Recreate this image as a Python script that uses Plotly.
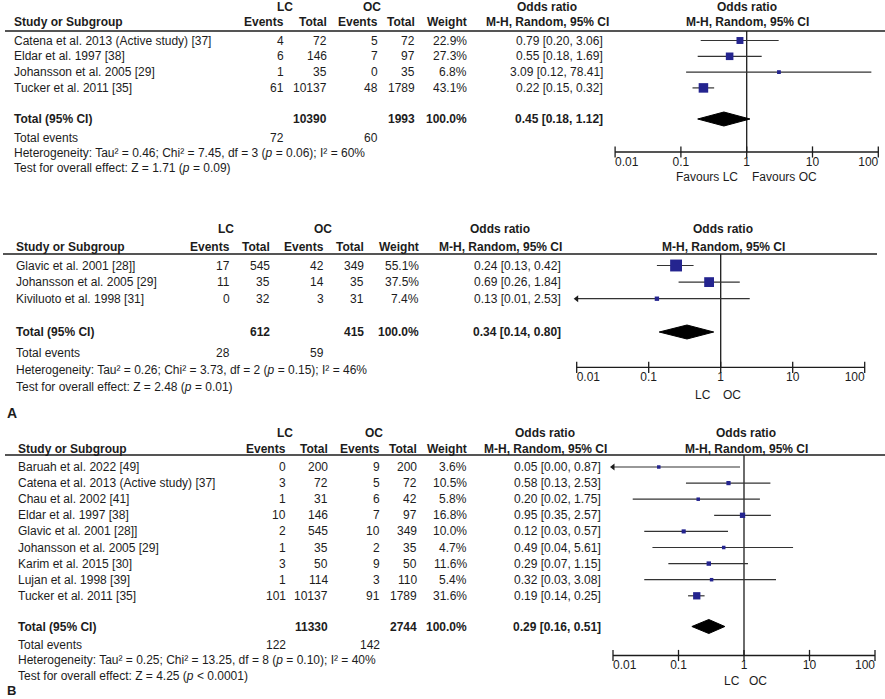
import plotly.graph_objects as go

W, H = 885, 699
FONT = "Liberation Sans, Arial, sans-serif"
INK = "#1c1c1c"
LINE = "#333333"
SQUARE = "#24248f"

TICKS = [0.01, 0.1, 1, 10, 100]
TICK_TEXT = ["0.01", "0.1", "1", "10", "100"]

# ---- A (top): LC vs OC
a1_study = ["Catena et al. 2013 (Active study) [37]", "Eldar et al. 1997 [38]",
            "Johansson et al. 2005 [29]", "Tucker et al. 2011 [35]"]
a1_lc_events = [4, 6, 1, 61]
a1_lc_total = [72, 146, 35, 10137]
a1_oc_events = [5, 7, 0, 48]
a1_oc_total = [72, 97, 35, 1789]
a1_weight = [22.9, 27.3, 6.8, 43.1]
a1_or = [0.79, 0.55, 3.09, 0.22]
a1_lo = [0.20, 0.18, 0.12, 0.15]
a1_hi = [3.06, 1.69, 78.41, 0.32]
a1_total_n = [10390, 1993]
a1_total_events = [72, 60]
a1_total_or = [0.45, 0.18, 1.12]
a1_het = "Heterogeneity: Tau² = 0.46; Chi² = 7.45, df = 3 (<i>p</i> = 0.06); I² = 60%"
a1_test = "Test for overall effect: Z = 1.71 (<i>p</i> = 0.09)"
a1_foot = ["Favours LC", "Favours OC"]

# ---- A (middle)
a2_study = ["Glavic et al. 2001 [28]]", "Johansson et al. 2005 [29]", "Kiviluoto et al. 1998 [31]"]
a2_lc_events = [17, 11, 0]
a2_lc_total = [545, 35, 32]
a2_oc_events = [42, 14, 3]
a2_oc_total = [349, 35, 31]
a2_weight = [55.1, 37.5, 7.4]
a2_or = [0.24, 0.69, 0.13]
a2_lo = [0.13, 0.26, 0.01]
a2_hi = [0.42, 1.84, 2.53]
a2_total_n = [612, 415]
a2_total_events = [28, 59]
a2_total_or = [0.34, 0.14, 0.80]
a2_het = "Heterogeneity: Tau² = 0.26; Chi² = 3.73, df = 2 (<i>p</i> = 0.15); I² = 46%"
a2_test = "Test for overall effect: Z = 2.48 (<i>p</i> = 0.01)"
a2_foot = ["LC", "OC"]

# ---- B
b_study = ["Baruah et al. 2022 [49]", "Catena et al. 2013 (Active study) [37]", "Chau et al. 2002 [41]",
           "Eldar et al. 1997 [38]", "Glavic et al. 2001 [28]]", "Johansson et al. 2005 [29]",
           "Karim et al. 2015 [30]", "Lujan et al. 1998 [39]", "Tucker et al. 2011 [35]"]
b_lc_events = [0, 3, 1, 10, 2, 1, 3, 1, 101]
b_lc_total = [200, 72, 31, 146, 545, 35, 50, 114, 10137]
b_oc_events = [9, 5, 6, 7, 10, 2, 9, 3, 91]
b_oc_total = [200, 72, 42, 97, 349, 35, 50, 110, 1789]
b_weight = [3.6, 10.5, 5.8, 16.8, 10.0, 4.7, 11.6, 5.4, 31.6]
b_or = [0.05, 0.58, 0.20, 0.95, 0.12, 0.49, 0.29, 0.32, 0.19]
b_lo = [0.00, 0.13, 0.02, 0.35, 0.03, 0.04, 0.07, 0.03, 0.14]
b_hi = [0.87, 2.53, 1.75, 2.57, 0.57, 5.61, 1.15, 3.08, 0.25]
b_total_n = [11330, 2744]
b_total_events = [122, 142]
b_total_or = [0.29, 0.16, 0.51]
b_het = "Heterogeneity: Tau² = 0.25; Chi² = 13.25, df = 8 (<i>p</i> = 0.10); I² = 40%"
b_test = "Test for overall effect: Z = 4.25 (<i>p</i> &lt; 0.0001)"
b_foot = ["LC", "OC"]


def px(x):
    return x / W


def py(y):
    return 1 - y / H


fig = go.Figure()
annotations = []
shapes = []


def label(x, y, s, anchor="left", bold=False, size=12, yref="paper"):
    annotations.append(dict(
        x=px(x), y=py(y) if yref == "paper" else y,
        xref="paper", yref=yref,
        text=f"<b>{s}</b>" if bold else s,
        showarrow=False, xanchor=anchor, yanchor="middle",
        font=dict(family=FONT, size=size, color=INK)))


def ci_text(v):
    return f"{v[0]:.2f} [{v[1]:.2f}, {v[2]:.2f}]"


def panel(n, d, c):
    xa = "x" if n == 1 else f"x{n}"
    ya = "y" if n == 1 else f"y{n}"
    key = "" if n == 1 else str(n)

    def row(p):
        return (p - c["row0"]) / c["row_h"]

    one, dec = c["one"], c["dec"]
    d0, d1 = c["dom"]
    fig.layout["xaxis" + key] = dict(
        type="log", domain=[px(d0), px(d1)],
        range=[(d0 - one) / dec, (d1 - one) / dec],
        anchor=ya, visible=False)
    fig.layout["yaxis" + key] = dict(
        domain=[0, 1], range=[row(H), row(0)], visible=False, anchor=xa)

    # table headers
    cols = c["cols"]
    label(c["lc_head"], c["h1"], "LC", "center", True)
    label(c["oc_head"], c["h1"], "OC", "center", True)
    label(c["or_head"], c["h1"], "Odds ratio", "center", True)
    label(c["plot_head"], c["h1"], "Odds ratio", "center", True)
    label(c["left"], c["h2"], "Study or Subgroup", "left", True)
    for x, s in zip(cols, ["Events", "Total", "Events", "Total", "Weight"]):
        label(x, c["h2"], s, "right", True)
    label(c["or_head"], c["h2"], "M-H, Random, 95% CI", "center", True)
    label(c["plot_head"], c["h2"], "M-H, Random, 95% CI", "center", True)
    shapes.append(dict(type="line", xref="paper", yref="paper",
                       x0=px(c["rule_x"][0]), x1=px(c["rule_x"][1]),
                       y0=py(c["rule"]), y1=py(c["rule"]),
                       line=dict(color=INK, width=1.3)))

    # study rows
    for i, s in enumerate(d["study"]):
        label(c["left"], i, s, "left", yref=ya)
        vals = [d["lc_ev"][i], d["lc_tot"][i], d["oc_ev"][i], d["oc_tot"][i], f"{d['w'][i]:.1f}%"]
        for x, v in zip(cols, vals):
            label(x, i, str(v), "right", yref=ya)
        label(c["ci_right"], i, ci_text([d["or"][i], d["lo"][i], d["hi"][i]]), "right", yref=ya)

    # totals and footnotes
    label(c["left"], c["tot"], "Total (95% CI)", "left", True)
    label(cols[1], c["tot"], str(d["tot_n"][0]), "right", True)
    label(cols[3], c["tot"], str(d["tot_n"][1]), "right", True)
    label(cols[4], c["tot"], "100.0%", "right", True)
    label(c["ci_right"], c["tot"], ci_text(d["tot_or"]), "right", True)
    label(c["left"], c["ev"], "Total events")
    label(cols[0], c["ev"], str(d["tot_ev"][0]), "right")
    label(cols[2], c["ev"], str(d["tot_ev"][1]), "right")
    label(c["left"], c["het"], d["het"])
    label(c["left"], c["test"], d["test"])
    for x, s in zip(c["foot_x"], d["foot"]):
        label(x, c["foot"], s, "center")

    # forest marks
    base = row(c["base"])
    fig.add_trace(go.Scatter(x=[1, 1], y=[row(c["rule"]), base], mode="lines",
                             line=dict(color=INK, width=1.3), xaxis=xa, yaxis=ya))
    fig.add_trace(go.Scatter(x=[TICKS[0], TICKS[-1]], y=[base, base], mode="lines",
                             line=dict(color=INK, width=1.3), xaxis=xa, yaxis=ya))
    fig.add_trace(go.Scatter(x=TICKS, y=[base] * len(TICKS), mode="markers",
                             marker=dict(symbol="line-ns", size=8, line=dict(color=INK, width=1.3)),
                             xaxis=xa, yaxis=ya))
    # scale labels: first one starts at its tick, last one ends at its tick
    pos = ["middle right"] + ["middle center"] * (len(TICKS) - 2) + ["middle left"]
    fig.add_trace(go.Scatter(x=TICKS, y=[row(c["base"] + 10.5)] * len(TICKS), mode="text",
                             text=TICK_TEXT, textposition=pos,
                             textfont=dict(family=FONT, size=12, color=INK),
                             xaxis=xa, yaxis=ya, cliponaxis=False))
    xs, ys, ax, ay = [], [], [], []
    for i in range(len(d["study"])):
        lo = max(d["lo"][i], TICKS[0])
        hi = min(d["hi"][i], TICKS[-1])
        xs += [lo, hi, None]
        ys += [i, i, None]
        if d["lo"][i] <= TICKS[0]:
            ax.append(TICKS[0])
            ay.append(i)
    fig.add_trace(go.Scatter(x=xs, y=ys, mode="lines", line=dict(color=LINE, width=1.2),
                             xaxis=xa, yaxis=ya))
    if ax:
        fig.add_trace(go.Scatter(x=ax, y=ay, mode="markers",
                                 marker=dict(symbol="triangle-left", size=6, color=INK),
                                 xaxis=xa, yaxis=ya))
    sizes = [max(3.5, c["k"] * w ** 0.5) for w in d["w"]]
    fig.add_trace(go.Scatter(x=d["or"], y=list(range(len(d["study"]))), mode="markers",
                             marker=dict(symbol="square", size=sizes, color=SQUARE,
                                         opacity=1, line=dict(width=0)),
                             xaxis=xa, yaxis=ya))
    t = row(c["tot"])
    h = 7 / c["row_h"]
    o, lo, hi = d["tot_or"]
    fig.add_trace(go.Scatter(x=[lo, o, hi, o, lo], y=[t, t - h, t, t + h, t], mode="lines",
                             fill="toself", fillcolor="black", line=dict(color="black", width=1),
                             xaxis=xa, yaxis=ya))


panel(1,
      dict(study=a1_study, lc_ev=a1_lc_events, lc_tot=a1_lc_total, oc_ev=a1_oc_events,
           oc_tot=a1_oc_total, w=a1_weight, lo=a1_lo, hi=a1_hi, tot_n=a1_total_n,
           tot_ev=a1_total_events, tot_or=a1_total_or, het=a1_het, test=a1_test, foot=a1_foot,
           **{"or": a1_or}),
      dict(row0=40.5, row_h=15.8, h1=6.5, h2=22.5, rule=31, rule_x=(5, 885),
           tot=119, ev=138, het=153.5, test=168.5, base=152, foot=176.5,
           left=11.5, cols=[286, 329, 379.5, 416.5, 469], ci_right=605,
           lc_head=285, oc_head=372, or_head=547, plot_head=747,
           one=746.7, dec=65.8, dom=(600, 885), k=1.45, foot_x=[707, 784]))

panel(2,
      dict(study=a2_study, lc_ev=a2_lc_events, lc_tot=a2_lc_total, oc_ev=a2_oc_events,
           oc_tot=a2_oc_total, w=a2_weight, lo=a2_lo, hi=a2_hi, tot_n=a2_total_n,
           tot_ev=a2_total_events, tot_or=a2_total_or, het=a2_het, test=a2_test, foot=a2_foot,
           **{"or": a2_or}),
      dict(row0=265.5, row_h=16.6, h1=228.5, h2=246.5, rule=254, rule_x=(3, 877),
           tot=332, ev=353, het=370, test=386.5, base=367.3, foot=395,
           left=13.5, cols=[231.5, 271.5, 325.5, 365.5, 421], ci_right=563,
           lc_head=226, oc_head=323, or_head=500, plot_head=723,
           one=720.7, dec=72, dom=(560, 885), k=1.6, foot_x=[703, 732]))

panel(3,
      dict(study=b_study, lc_ev=b_lc_events, lc_tot=b_lc_total, oc_ev=b_oc_events,
           oc_tot=b_oc_total, w=b_weight, lo=b_lo, hi=b_hi, tot_n=b_total_n,
           tot_ev=b_total_events, tot_or=b_total_or, het=b_het, test=b_test, foot=b_foot,
           **{"or": b_or}),
      dict(row0=467, row_h=16.1, h1=433, h2=449, rule=455, rule_x=(5, 885),
           tot=626.5, ev=644.5, het=660, test=676, base=655.5, foot=681,
           left=16, cols=[288, 330, 381.5, 419, 469], ci_right=603,
           lc_head=285, oc_head=374, or_head=545, plot_head=746,
           one=744, dec=65.5, dom=(600, 885), k=1.3, foot_x=[732, 758]))

label(5, 413, "A", "left", True, 14)
label(5, 690, "B", "left", True, 13)

fig.update_layout(
    width=W, height=H,
    margin=dict(l=0, r=0, t=0, b=0),
    paper_bgcolor="white", plot_bgcolor="rgba(0,0,0,0)",
    showlegend=False,
    annotations=annotations, shapes=shapes,
)

# the page has no body margin so the figure sits at the window's corner
fig.write_html("out.html", config={"displayModeBar": False},
               post_script="document.body.style.margin = '0';")
